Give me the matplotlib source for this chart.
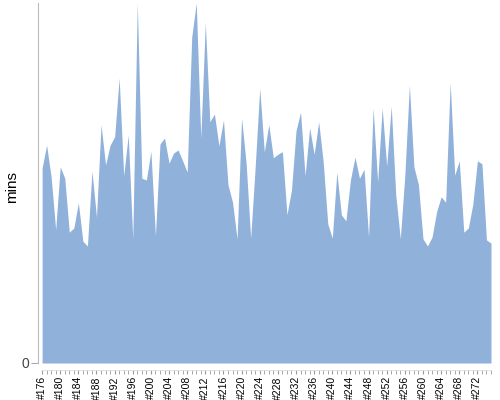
import matplotlib
matplotlib.use("Agg")
import matplotlib.pyplot as plt
import numpy as np

# build numbers and duration per build (minutes)
builds = list(range(176, 276))
mins = [32.5, 36.3, 31.0, 22.2, 32.7, 30.8, 21.8, 22.5, 26.7, 20.3,
        19.5, 32.0, 24.3, 39.7, 33.0, 36.3, 37.7, 47.5, 31.2, 38.0,
        20.7, 60.0, 30.8, 30.5, 35.3, 21.2, 36.5, 37.5, 33.3, 35.0,
        35.5, 33.7, 31.8, 54.3, 60.0, 37.5, 56.7, 40.2, 41.5, 36.2,
        40.5, 29.7, 26.8, 20.7, 40.8, 33.3, 20.8, 32.7, 45.8, 35.2,
        39.7, 34.2, 34.8, 35.2, 24.7, 28.8, 38.7, 41.8, 31.2, 39.2,
        34.8, 40.2, 33.5, 23.2, 20.8, 31.8, 24.7, 23.7, 30.5, 34.3,
        30.8, 32.3, 21.0, 42.5, 30.2, 42.5, 32.8, 42.8, 28.0, 20.7,
        31.3, 46.3, 32.7, 29.7, 20.7, 19.5, 21.0, 25.2, 27.7, 26.8,
        46.7, 31.3, 33.7, 21.8, 22.5, 26.5, 33.7, 33.2, 20.5, 20.0]
labels = ["#%d" % b for b in builds]

plt.rcParams['font.family'] = ['Liberation Sans', 'DejaVu Sans']

fig = plt.figure(figsize=(5, 4), dpi=100)
ax = fig.add_axes([0.076, 0.0925, 0.906, 0.9])

x = np.arange(len(builds))
ax.fill_between(x, 0, mins, color='#8FB1DA', linewidth=0)

ax.set_xlim(-0.9, len(builds) - 1)
ax.set_ylim(0, 60)

# axes styling
for side in ['top', 'right']:
    ax.spines[side].set_visible(False)
ax.spines['left'].set_color('#bbbbbb')
ax.spines['bottom'].set_color('#dddddd')
ax.spines['bottom'].set_linewidth(0.6)
ax.spines['bottom'].set_position(('outward', 5))
ax.spines['bottom'].set_bounds(0, len(builds) - 1)

ax.set_yticks([0])
ax.set_yticklabels(['0'])
ax.tick_params(axis='y', length=5, color='#aaaaaa', labelsize=10,
               labelcolor='#444444', pad=1)

major = x[::4]
ax.set_xticks(major)
ax.set_xticklabels(labels[::4], rotation=90)
ax.set_xticks(x, minor=True)
ax.tick_params(axis='x', which='both', length=3, color='#999999',
               labelsize=7.5, labelcolor='black', pad=1.5)

ax.set_ylabel('mins', fontsize=11)
ax.yaxis.set_label_coords(-0.042, 0.49)

fig.savefig('out.png', dpi=100)
